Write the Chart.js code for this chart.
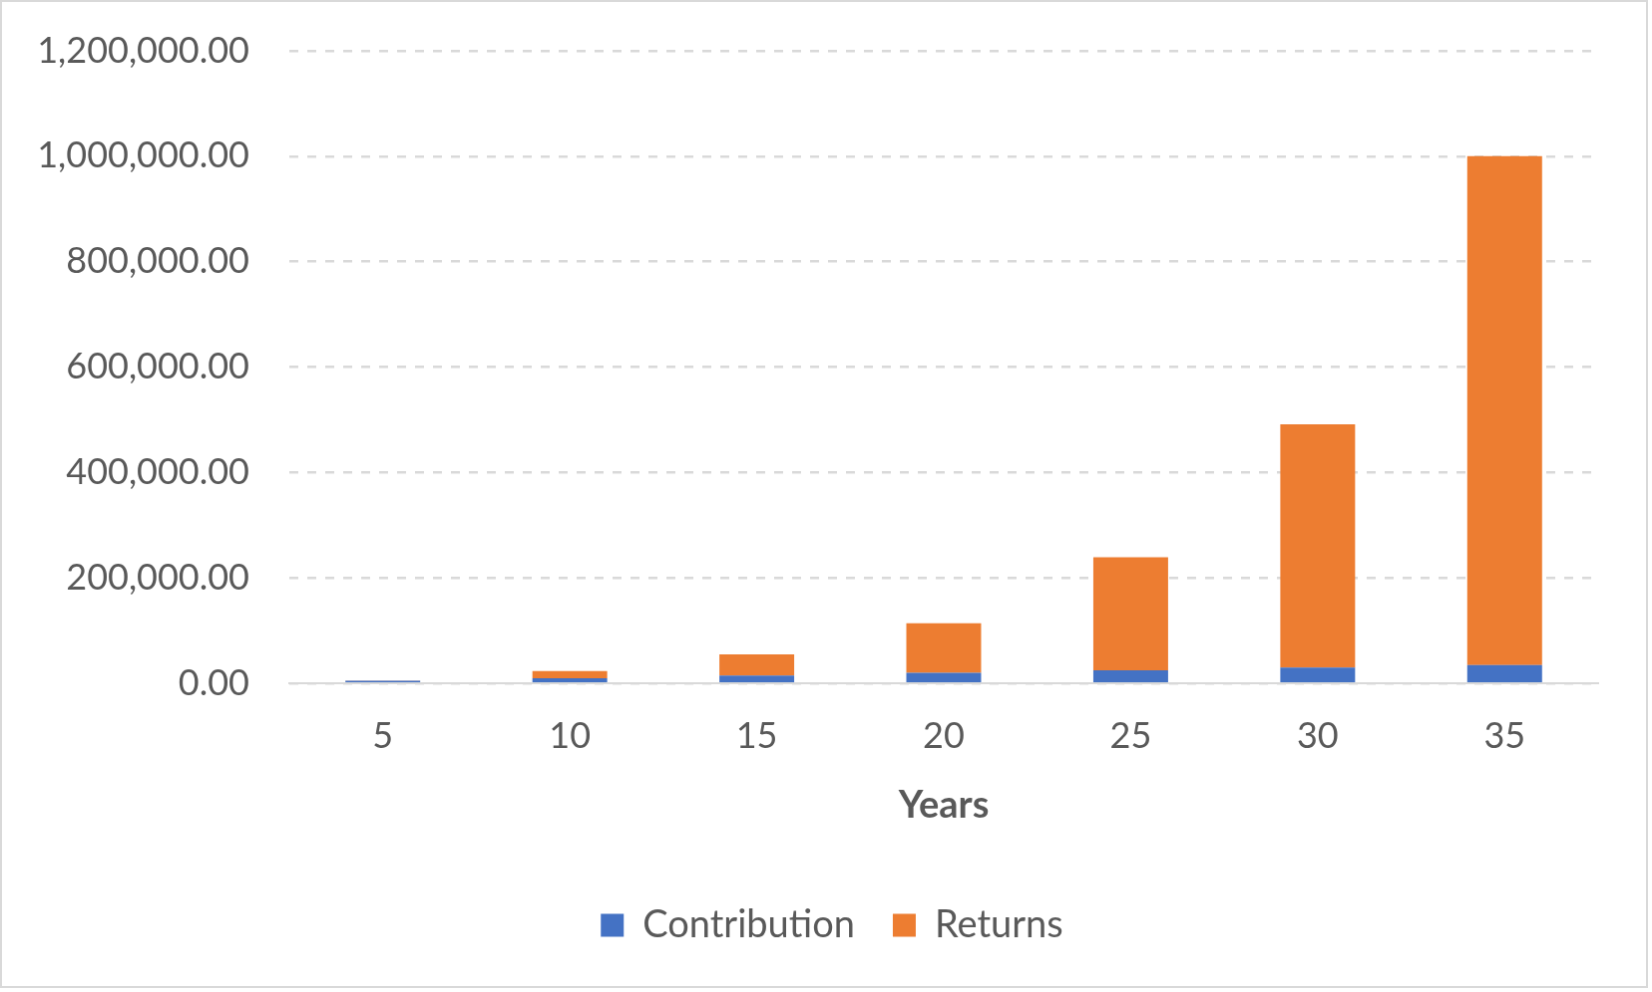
<!DOCTYPE html>
<html lang="en">
  <head>
    <meta charset="UTF-8" />
    <title>Contribution vs Returns</title>
    <style>
      * {
        box-sizing: content-box;
        margin: 0;
        padding: 0;
      }
      body {
        background: #ffffff;
      }
      #chart {
        display: block;
        border: 2px solid #d9d9d9;
      }
    </style>
  </head>
  <body>
    <canvas id="chart" width="1648" height="988"></canvas>

    <script src="https://cdn.jsdelivr.net/npm/chart.js"></script>
    <script>
      const years = ["5", "10", "15", "20", "25", "30", "35"];
      const contribution = [5000, 10000, 15000, 20000, 25000, 30000, 35000];
      const returns = [700, 13500, 40000, 94000, 214500, 461500, 965000];
      const yMax = 1200000;
      const yStep = 200000;

      const textColor = "#595959";
      const gridColor = "#d9d9d9";
      const fontFamily = "Lato, 'Open Sans', sans-serif";

      const fmt = (v) =>
        Number(v).toLocaleString("en-US", {
          minimumFractionDigits: 2,
          maximumFractionDigits: 2,
        });

      // legend sits a bit right of the canvas centre in the original
      const nudgeLegend = {
        id: "nudgeLegend",
        afterLayout(chart) {
          chart.legend.left += 22;
          chart.legend.right += 22;
        },
      };

      const ctx = document.getElementById("chart").getContext("2d");
      new Chart(ctx, {
        type: "bar",
        data: {
          labels: years,
          datasets: [
            {
              label: "Contribution",
              data: contribution,
              backgroundColor: "#4472c4",
              categoryPercentage: 1,
              barPercentage: 0.4,
            },
            {
              label: "Returns",
              data: returns,
              backgroundColor: "#ed7d31",
              categoryPercentage: 1,
              barPercentage: 0.4,
            },
          ],
        },
        plugins: [nudgeLegend],
        options: {
          responsive: false,
          animation: false,
          layout: {
            padding: { top: 49, right: 48, bottom: 32, left: 20 },
          },
          plugins: {
            legend: {
              position: "bottom",
              labels: {
                color: textColor,
                font: { family: fontFamily, size: 38 },
                boxWidth: 23,
                boxHeight: 23,
                padding: 38,
              },
            },
            tooltip: { enabled: false },
          },
          scales: {
            x: {
              stacked: true,
              grid: { display: false, drawTicks: false },
              border: { display: true, color: gridColor, width: 2 },
              ticks: {
                color: textColor,
                font: { family: fontFamily, size: 36 },
                padding: 32,
              },
              title: {
                display: true,
                text: "Years",
                color: textColor,
                font: { family: fontFamily, size: 38, weight: "bold" },
                padding: { top: -7, bottom: 40 },
              },
            },
            y: {
              stacked: true,
              min: 0,
              max: yMax,
              grid: {
                color: gridColor,
                lineWidth: 2.5,
                drawTicks: false,
              },
              border: { display: false, dash: [9, 9] },
              ticks: {
                stepSize: yStep,
                color: textColor,
                font: { family: fontFamily, size: 36 },
                padding: 40,
                callback: (v) => fmt(v),
              },
              afterFit: (scale) => {
                scale.width = 268;
                scale.paddingTop = 20;
                scale.paddingBottom = 20;
              },
            },
          },
        },
      });
    </script>
  </body>
</html>
